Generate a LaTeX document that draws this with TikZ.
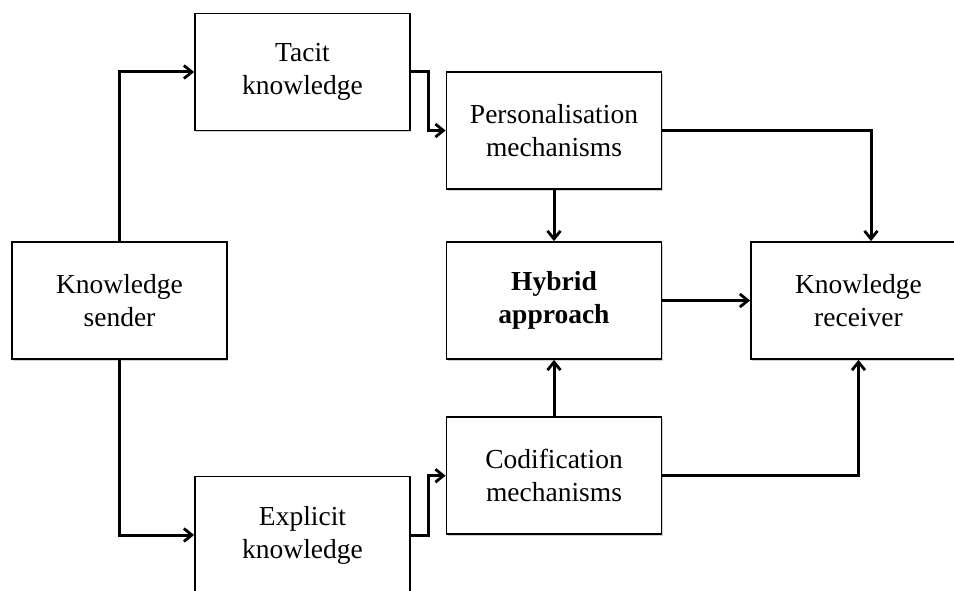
\documentclass[tikz,border=0pt]{standalone}
\usepackage{fontspec}
\setmainfont{Liberation Serif}
\usetikzlibrary{arrows.meta,shadows}

\begin{document}
\begin{tikzpicture}[x=1pt,y=-1pt,
  box/.style={draw=black, line width=1.8pt, fill=white,
    minimum width=215pt, minimum height=117pt, inner sep=0pt,
    align=center, font=\fontsize{27.5}{33}\selectfont,
    drop shadow={shadow xshift=1.2pt, shadow yshift=-1.6pt, opacity=0.35, fill=gray}},
  link/.style={line width=3pt, draw=black,
    -{Straight Barb[length=8pt,width=13pt,line width=2.8pt]}}
]
\clip (0,0) rectangle (954,591);
\fill[white] (0,0) rectangle (954,591);

% boxes
\node[box] (sender)   at (119.5,300.5) {Knowledge\\sender};
\node[box] (tacit)    at (302.5,72)    {Tacit\\knowledge};
\node[box] (explicit) at (302.5,535)   {Explicit\\knowledge};
\node[box] (pers)     at (554,130.5)   {Personalisation\\mechanisms};
\node[box] (hyb)      at (554,300.5)   {\bfseries Hybrid\\\bfseries approach};
\node[box] (cod)      at (554,475.7)   {Codification\\mechanisms};
\node[box] (recv)     at (858.5,300.5) {Knowledge\\receiver};

% connectors
\draw[link] (sender.north) |- (tacit.west);
\draw[link] (sender.south) |- (explicit.west);
\draw[link] (tacit.east) -- ++(18,0) |- (pers.west);
\draw[link] (explicit.east) -- ++(18,0) |- (cod.west);
\draw[link] (pers.south) -- (hyb.north);
\draw[link] (cod.north) -- (hyb.south);
\draw[link] (hyb.east) -- (recv.west);
\draw[link] (pers.east) -| ([xshift=12.5pt]recv.north);
\draw[link] (cod.east) -| (recv.south);
\end{tikzpicture}
\end{document}
